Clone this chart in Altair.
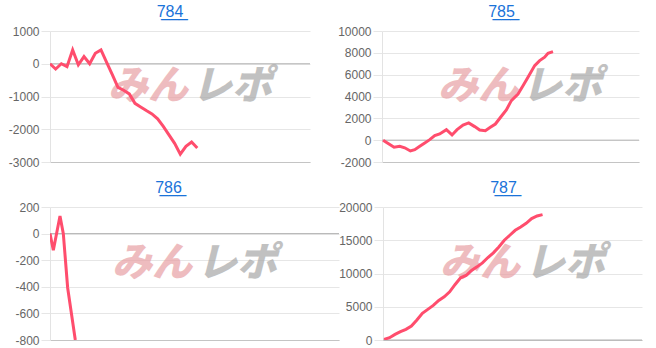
import altair as alt
import pandas as pd

LINE = "#ff4d6d"

# ---- data ----
x784 = list(range(27))
y784 = [0, -160, 0, -90, 420, -30, 220, 0, 320, 420, 45, -335, -720, -810, -920,
        -1210, -1320, -1430, -1530, -1680, -1910, -2170, -2430, -2760, -2520, -2390, -2570]

x785 = [0, 1, 2, 3.04, 3.95, 4.98, 5.78, 6.69, 7.6, 8.51, 9.42, 10.33, 11.55, 12.58,
        13.5, 14.59, 15.62, 16.72, 17.63, 18.66, 19.57, 20.49, 21.58, 22.49, 23.4,
        24.62, 25.53, 26.44, 27.66, 28.57, 29.48, 30.09, 31.0]
y785 = [0, -330, -650, -560, -700, -990, -870, -560, -260, 50, 410, 570, 960, 480,
        960, 1390, 1580, 1240, 930, 870, 1180, 1480, 2190, 2770, 3620, 4230, 4990,
        5760, 6830, 7290, 7600, 7960, 8110]

x786 = [0, 1, 3, 4, 5.3, 7.6]
y786 = [0, -125, 132, 0, -407, -800]

x787 = list(range(30))
y787 = [100, 350, 850, 1250, 1600, 2100, 3000, 4000, 4600, 5200, 5950, 6500, 7250,
        8350, 9350, 9700, 10450, 11000, 11600, 12400, 13100, 14000, 15000, 15750,
        16500, 17000, 17550, 18250, 18650, 18850]

titles = ["784", "785", "786", "787"]
ticks784 = [-3000, -2000, -1000, 0, 1000]
ticks785 = [-2000, 0, 2000, 4000, 6000, 8000, 10000]
ticks786 = [-800, -600, -400, -200, 0, 200]
ticks787 = [0, 5000, 10000, 15000, 20000]

UL = "\u0332"


def underline(s):
    return "".join(c + UL for c in s)


def panel(xs, ys, xdom, ydom, yticks, w, h, title, tdx, ext, wm1, wm2, wmy):
    df = pd.DataFrame({"x": xs, "y": ys})
    yaxis = alt.Axis(values=yticks, grid=True, gridColor="#e6e6e6", domainColor="#e3e3e3",
                     tickColor="#e6e6e6", tickSize=9, labelPadding=2, labelColor="#666666",
                     labelFontSize=12, labelFont="Liberation Sans", title=None,
                     labelOverlap=False, minExtent=ext, maxExtent=ext,
                     labelExpr="'' + datum.value")
    xaxis = alt.Axis(labels=False, ticks=False, grid=False, domainColor="#c4c4c4",
                     title=None, minExtent=0, maxExtent=0)
    yscale = alt.Scale(domain=ydom, nice=False)
    line = alt.Chart(df).mark_line(color=LINE, strokeWidth=3, clip=True).encode(
        x=alt.X("x:Q", scale=alt.Scale(domain=xdom, nice=False, zero=False), axis=xaxis),
        y=alt.Y("y:Q", scale=yscale, axis=yaxis),
    )
    zero = alt.Chart(pd.DataFrame({"y": [0]})).mark_rule(color="#b3b3b3", strokeWidth=1).encode(
        y=alt.Y("y:Q", scale=yscale, axis=yaxis))
    t1 = alt.Chart(pd.DataFrame({"t": ["みん"]})).mark_text(
        font="Noto Sans CJK JP", fontSize=40, fontWeight=900, fontStyle="italic",
        color="#e8a0a4", opacity=0.7, align="center", baseline="middle").encode(
        text="t:N", x=alt.value(wm1), y=alt.value(wmy))
    t2 = alt.Chart(pd.DataFrame({"t": ["レポ"]})).mark_text(
        font="Noto Sans CJK JP", fontSize=40, fontWeight=900, fontStyle="italic",
        color="#a8a8a8", opacity=0.7, align="center", baseline="middle").encode(
        text="t:N", x=alt.value(wm2), y=alt.value(wmy))
    return alt.layer(t1, t2, zero, line).properties(
        width=w, height=h,
        title=alt.TitleParams(text=underline(title), color="#1a73d9", fontSize=16,
                              font="Liberation Sans", fontWeight="normal", dx=tdx,
                              offset=5, anchor="middle"),
    )


p1 = panel(x784, y784, [0, 45.9], [-3000, 1000], ticks784, 260, 131, titles[0], -10, 50, 98, 182, 56)
p2 = panel(x785, y785, [-0.2, 46.7], [-2000, 10000], ticks785, 257, 131, titles[1], -9, 44, 96, 180, 56)
p3 = panel(x786, y786, [0, 86.8], [-800, 200], ticks786, 289, 133, titles[2], -26, 43, 102, 187, 57)
p4 = panel(x787, y787, [-0.2, 47.2], [0, 20000], ticks787, 259, 133, titles[3], -9, 46, 97, 182, 57)

chart = alt.concat(p1, p2, p3, p4, columns=2, align="none",
                   spacing=alt.RowColnumber(row=12, column=-3)).properties(
    padding={"top": 4, "left": 0, "right": 0, "bottom": 0}
).configure_view(stroke=None).configure_axisY(labelOverlap=False)

chart.save("out.html", embed_options={"renderer": "svg", "actions": False})
